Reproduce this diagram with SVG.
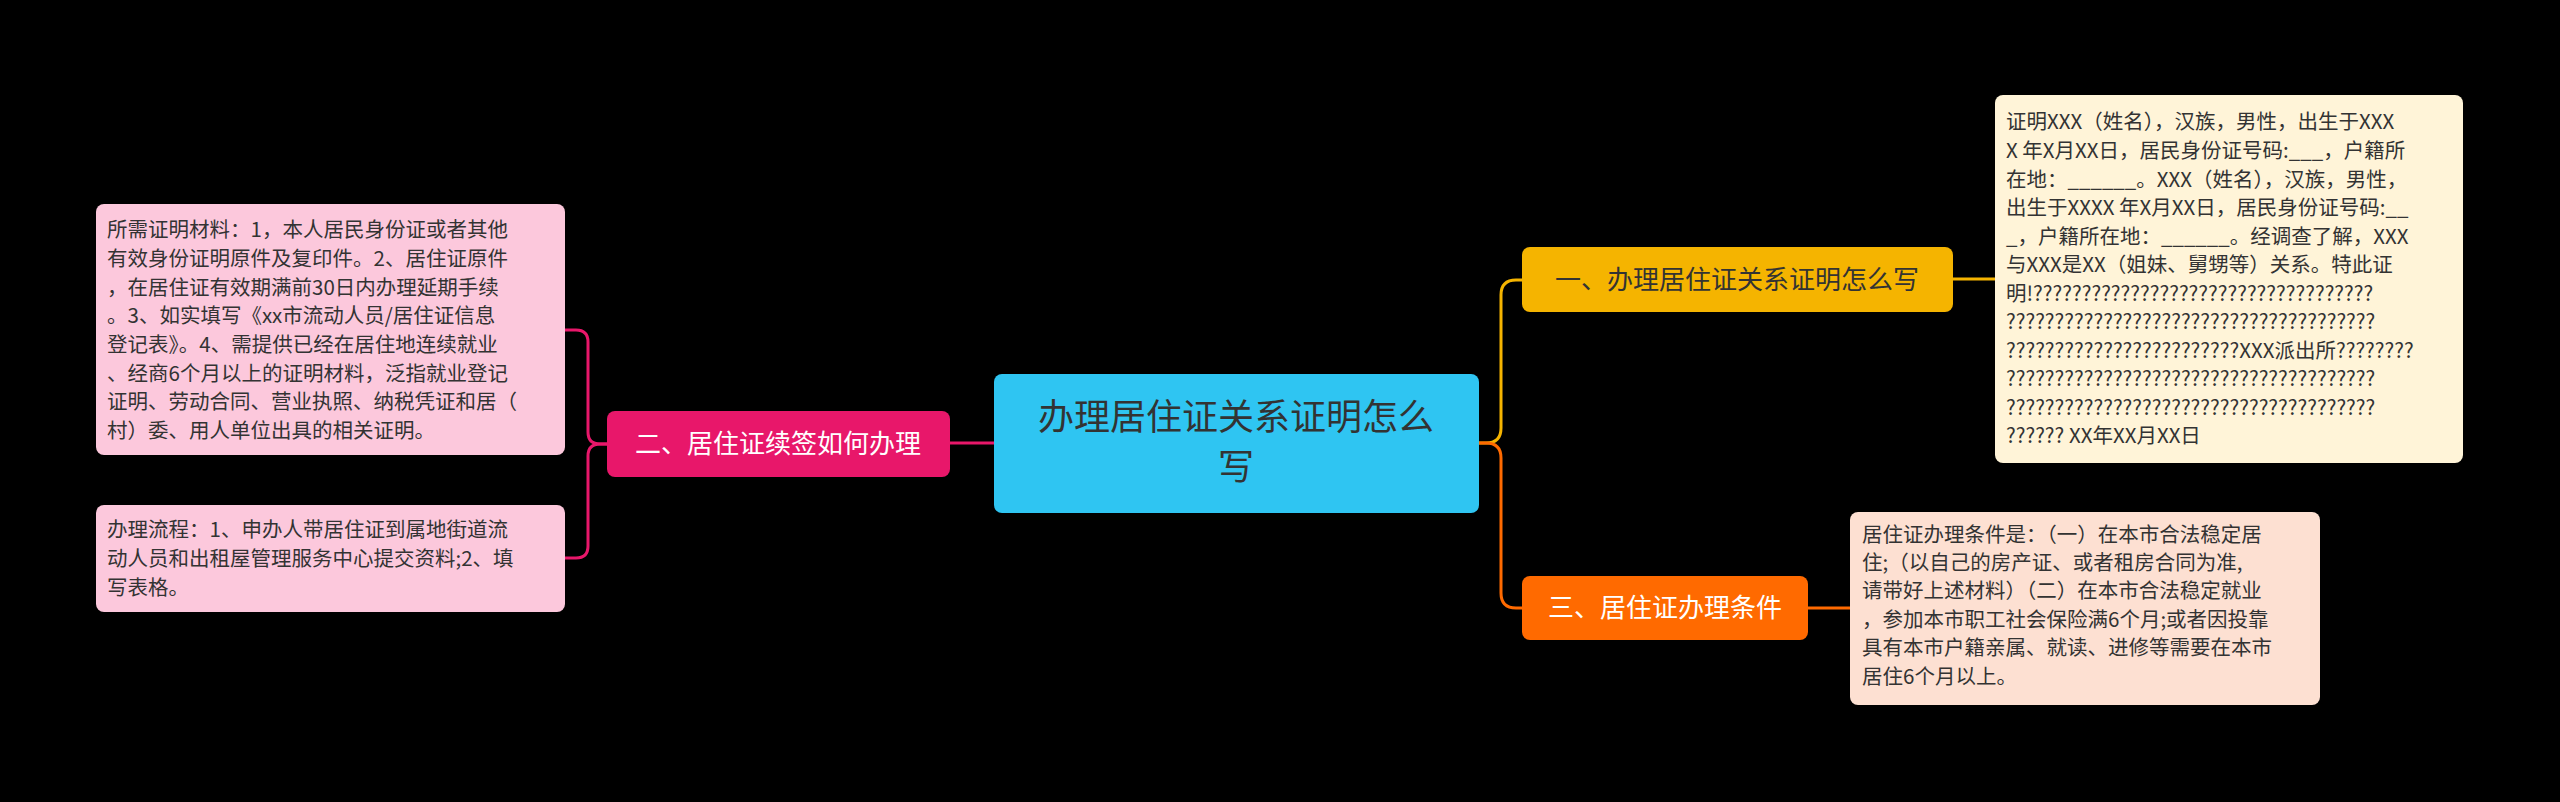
<svg xmlns="http://www.w3.org/2000/svg" width="2560" height="802" viewBox="0 0 2560 802">
<style>
text{font-family:"Noto Sans CJK SC","Noto Sans",sans-serif;}
.leaf{font-size:20.5px;}
.c{fill:none;stroke-width:3;}
</style>
<rect width="2560" height="802" fill="#000"/>
<g id="connectors">
<path class="c" stroke="#f5b400" d="M1479,443 H1486 Q1501,443 1501,428 V295 Q1501,280 1516,280 H1522"/>
<path class="c" stroke="#ff6a00" d="M1479,443 H1486 Q1501,443 1501,458 V593 Q1501,608 1516,608 H1522"/>
<path class="c" stroke="#f5b400" d="M1953,279 H1995"/>
<path class="c" stroke="#ff6a00" d="M1808,608 H1850"/>
<path class="c" stroke="#e8176a" d="M994,443 H950"/>
<path class="c" stroke="#e8176a" d="M607,444 H600 Q588,444 588,432 V342 Q588,330 576,330 H565"/>
<path class="c" stroke="#e8176a" d="M607,444 H600 Q588,444 588,456 V546 Q588,558 576,558 H565"/>
</g>
<g id="center">
<rect x="994" y="374" width="485" height="139" rx="8" fill="#2fc5f2"/>
<text x="1236" y="430" font-size="36" fill="#333" text-anchor="middle">办理居住证关系证明怎么</text>
<text x="1236" y="480" font-size="36" fill="#333" text-anchor="middle">写</text>
</g>
<g id="b1">
<rect x="1522" y="247" width="431" height="65" rx="8" fill="#f5b400"/>
<text x="1737" y="289" font-size="26" fill="#333" text-anchor="middle">一、办理居住证关系证明怎么写</text>
</g>
<g id="b3">
<rect x="1522" y="576" width="286" height="64" rx="8" fill="#ff6a00"/>
<text x="1665" y="617" font-size="26" fill="#fff" text-anchor="middle">三、居住证办理条件</text>
</g>
<g id="b2">
<rect x="607" y="411" width="343" height="66" rx="8" fill="#e8176a"/>
<text x="778" y="453" font-size="26" fill="#fff" text-anchor="middle">二、居住证续签如何办理</text>
</g>
<g id="leaf1">
<rect x="1995" y="95" width="468" height="368" rx="8" fill="#fff4d8"/>
<text class="leaf" fill="#333" x="2006">
<tspan x="2006" y="129">证明XXX（姓名），汉族，男性，出生于XXX</tspan>
<tspan x="2006" y="158">X 年X月XX日，居民身份证号码:___，户籍所</tspan>
<tspan x="2006" y="187">在地：______。XXX（姓名），汉族，男性，</tspan>
<tspan x="2006" y="215">出生于XXXX 年X月XX日，居民身份证号码:__</tspan>
<tspan x="2006" y="244">_，户籍所在地：______。经调查了解，XXX</tspan>
<tspan x="2006" y="272">与XXX是XX（姐妹、舅甥等）关系。特此证</tspan>
<tspan x="2006" y="301">明!???????????????????????????????????</tspan>
<tspan x="2006" y="329">??????????????????????????????????????</tspan>
<tspan x="2006" y="358">????????????????????????XXX派出所????????</tspan>
<tspan x="2006" y="386">??????????????????????????????????????</tspan>
<tspan x="2006" y="415">??????????????????????????????????????</tspan>
<tspan x="2006" y="443">?????? XX年XX月XX日</tspan>
</text>
</g>
<g id="leaf3">
<rect x="1850" y="512" width="470" height="193" rx="8" fill="#fde0d2"/>
<text class="leaf" fill="#333">
<tspan x="1862" y="542">居住证办理条件是：（一）在本市合法稳定居</tspan>
<tspan x="1862" y="570">住;（以自己的房产证、或者租房合同为准,</tspan>
<tspan x="1862" y="598">请带好上述材料）（二）在本市合法稳定就业</tspan>
<tspan x="1862" y="627">，参加本市职工社会保险满6个月;或者因投靠</tspan>
<tspan x="1862" y="655">具有本市户籍亲属、就读、进修等需要在本市</tspan>
<tspan x="1862" y="684">居住6个月以上。</tspan>
</text>
</g>
<g id="leaf2a">
<rect x="96" y="204" width="469" height="251" rx="8" fill="#fcc8dc"/>
<text class="leaf" fill="#333">
<tspan x="107" y="237">所需证明材料：1，本人居民身份证或者其他</tspan>
<tspan x="107" y="266">有效身份证明原件及复印件。2、居住证原件</tspan>
<tspan x="107" y="295">，在居住证有效期满前30日内办理延期手续</tspan>
<tspan x="107" y="323">。3、如实填写《xx市流动人员/居住证信息</tspan>
<tspan x="107" y="352">登记表》。4、需提供已经在居住地连续就业</tspan>
<tspan x="107" y="381">、经商6个月以上的证明材料，泛指就业登记</tspan>
<tspan x="107" y="409">证明、劳动合同、营业执照、纳税凭证和居（</tspan>
<tspan x="107" y="438">村）委、用人单位出具的相关证明。</tspan>
</text>
</g>
<g id="leaf2b">
<rect x="96" y="505" width="469" height="107" rx="8" fill="#fcc8dc"/>
<text class="leaf" fill="#333">
<tspan x="107" y="537">办理流程：1、申办人带居住证到属地街道流</tspan>
<tspan x="107" y="566">动人员和出租屋管理服务中心提交资料;2、填</tspan>
<tspan x="107" y="595">写表格。</tspan>
</text>
</g>
</svg>
